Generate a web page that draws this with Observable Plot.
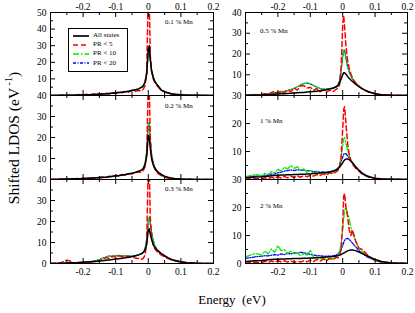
<!DOCTYPE html>
<html><head><meta charset="utf-8">
<script src="https://cdn.jsdelivr.net/npm/d3@7"></script>
<script src="https://cdn.jsdelivr.net/npm/@observablehq/plot@0.6"></script>
<style>
body{margin:0;background:#fff;}
#chart{position:relative;width:415px;height:313px;overflow:hidden;background:#fff;font-family:"Liberation Serif","Times New Roman",serif;color:#000;}
.abs{position:absolute;white-space:pre;line-height:1;}
</style></head><body><div id="chart"></div>
<script>
// ---- data ----
const energy = [-0.30,-0.27,-0.25,-0.24,-0.23,-0.22,-0.21,-0.20,-0.19,-0.18,-0.17,-0.16,-0.15,-0.14,-0.13,-0.12,-0.11,-0.10,-0.09,-0.08,-0.07,-0.06,-0.05,-0.04,-0.03,-0.02,-0.015,-0.01,-0.005,0,0.003,0.006,0.01,0.015,0.02,0.025,0.03,0.04,0.05,0.06,0.07,0.08,0.10,0.12,0.15,0.20];

const seriesNames = ["All states", "PR < 5", "PR < 10", "PR < 20"];
const panelLabels = ["0.1 % Mn", "0.2 % Mn", "0.3 % Mn", "0.5 % Mn", "1 % Mn", "2 % Mn"];

// 0.1 % Mn
const mn01_all  = [0,0.1,0.1,0.2,0.2,0.3,0.3,0.4,0.5,0.5, 0.6,0.7,0.8,0.9,1.0,1.2,1.4,1.6,1.8,2.0, 2.3,2.6,3.0,3.4,4.0,5.0,6.0,8.0,13, 28,30,22,15,11,8.5,7,5.8,3.2,2.3, 1.6,1.1,0.8,0.4,0.2,0.1,0];
const mn01_pr5  = [0,0.1,0.3,0.1,0.2,0.1,0.6,0.2,0.8,0.3, 0.9,0.5,1.0,0.6,1.3,0.9,1.8,1.2,2.2,1.6, 2.6,2.0,3.2,2.6,3.0,2.8,4,6,14, 62,58,24,15,10,8,6.5,5.2,3.2,2.2, 1.5,1.0,0.7,0.3,0.1,0.1,0];
const mn01_pr10 = [0,0.1,0.1,0.2,0.2,0.3,0.3,0.4,0.5,0.5, 0.6,0.7,0.8,0.9,1.0,1.2,1.4,1.6,1.8,2.0, 2.3,2.6,3.0,3.4,4.0,5.0,6.0,8.0,13, 27,29,22,15,11,8.5,7,5.8,3.2,2.3, 1.6,1.1,0.8,0.4,0.2,0.1,0];
const mn01_pr20 = [0,0.1,0.1,0.2,0.2,0.3,0.3,0.4,0.5,0.5, 0.6,0.7,0.8,0.9,1.0,1.2,1.4,1.6,1.8,2.0, 2.3,2.6,3.0,3.4,4.0,5.0,6.0,8.0,13, 27,29,22,15,11,8.5,7,5.8,3.2,2.3, 1.6,1.1,0.8,0.4,0.2,0.1,0];
// 0.2 % Mn
const mn02_all  = [0,0.1,0.2,0.2,0.3,0.3,0.4,0.5,0.5,0.6, 0.7,0.8,0.9,1.0,1.1,1.3,1.5,1.7,1.9,2.1, 2.4,2.7,3.0,3.4,3.9,4.6,5.4,7,11, 21,20,15,10,7,5.5,4.4,3.5,2.4,1.6, 1.1,0.7,0.5,0.2,0.1,0.05,0];
const mn02_pr5  = [0,0.2,0.1,0.3,0.2,0.5,0.3,0.7,0.4,0.8, 0.6,1.0,0.8,1.3,1.0,1.6,1.3,2.0,1.6,2.4, 2.0,2.8,2.6,3.2,3.6,3.4,4.5,6,12, 45,44,20,11,7,5,3.8,2.8,1.8,1.1, 0.7,0.5,0.3,0.1,0.1,0,0];
const mn02_pr10 = [0,0.1,0.2,0.3,0.2,0.4,0.3,0.6,0.5,0.7, 0.6,0.9,0.8,1.1,1.0,1.4,1.4,1.8,1.7,2.2, 2.3,2.8,2.9,3.4,3.8,4.5,5.5,7.5,13, 26,27,18,12,8,5.5,4.2,3.2,2.0,1.3, 0.8,0.5,0.3,0.1,0.05,0,0];
const mn02_pr20 = [0,0.1,0.2,0.3,0.2,0.4,0.3,0.6,0.5,0.7, 0.6,0.9,0.8,1.1,1.0,1.4,1.4,1.8,1.7,2.2, 2.3,2.8,2.9,3.4,3.8,4.5,5.5,7.5,13, 26,27,18,12,8,5.5,4.2,3.2,2.0,1.3, 0.8,0.5,0.3,0.1,0.05,0,0];
// 0.3 % Mn
const mn03_all  = [0,0.1,0.2,0.3,0.3,0.4,0.5,0.6,0.7,0.8, 0.9,1.0,1.2,1.3,1.5,1.7,1.9,2.1,2.3,2.5, 2.7,3.0,3.3,3.7,4.1,4.7,5.3,6.3,9, 16,16.5,14,11.5,9,7.8,6.8,6.0,4.7,3.7, 2.8,2.1,1.5,0.8,0.4,0.1,0];
const mn03_pr5  = [0,0.2,1.6,1.2,0.3,0.2,0.4,0.3,0.6,0.5, 0.8,1.0,1.5,1.8,2.8,2.4,3.6,3.0,3.8,3.2, 3.6,3.0,3.4,2.6,2.4,2.0,2.6,4,10, 48,46,22,13,9,7,6,5.2,4,3.2, 2.4,1.8,1.3,0.6,0.3,0.1,0];
const mn03_pr10 = [0,0.1,0.3,0.3,0.4,0.4,0.5,0.6,0.7,0.9, 1.0,1.4,1.8,2.6,3.0,3.6,3.2,3.9,3.4,3.8, 3.5,3.6,3.4,3.6,4.0,4.8,5.5,7,11, 20,22,19,15,11,8.5,7,6,4.5,3.5, 2.6,1.9,1.4,0.7,0.3,0.1,0];
const mn03_pr20 = [0,0.1,0.3,0.3,0.4,0.4,0.5,0.6,0.7,0.9, 1.0,1.4,1.8,2.6,3.0,3.6,3.2,3.9,3.4,3.8, 3.5,3.6,3.4,3.6,4.0,4.8,5.5,7,11, 20,22,19,15,11,8.5,7,6,4.5,3.5, 2.6,1.9,1.4,0.7,0.3,0.1,0];
// 0.5 % Mn
const mn05_all  = [0.1,0.2,0.3,0.4,0.4,0.5,0.6,0.7,0.8,0.9, 1.0,1.1,1.2,1.3,1.4,1.5,1.7,1.8,1.9,2.1, 2.3,2.5,2.8,3.1,3.5,4.2,4.8,6,8, 10,11,11,10.2,9.2,8.3,7.5,6.8,5.5,4.3, 3.3,2.5,1.8,0.9,0.4,0.1,0];
const mn05_pr5  = [0,0.2,0.5,0.8,0.5,1.5,2.0,1.0,2.2,1.2, 2.8,1.8,3.6,2.6,4.6,4.8,3.6,4.0,2.4,3.4, 1.8,2.8,1.6,2.6,1.8,3.0,3.5,5,12, 34,38.5,33,24,17,13,10.5,8.5,6,4.5, 3.3,2.4,1.7,0.8,0.3,0.2,0.1];
const mn05_pr10 = [0.1,0.3,0.5,0.7,0.8,1.0,1.3,1.5,1.8,2.0, 2.4,2.8,3.4,4.2,5.0,5.8,6.0,5.6,4.8,4.0, 3.4,3.0,3.1,3.3,3.6,4.2,5,7,12, 19,22,21.5,18,14,11.5,9.5,8,6,4.5, 3.3,2.4,1.7,0.8,0.3,0.1,0];
const mn05_pr20 = [0.1,0.3,0.5,0.7,0.8,1.0,1.3,1.5,1.8,2.0, 2.4,2.8,3.4,4.2,5.0,5.8,6.0,5.6,4.8,4.0, 3.4,3.0,3.1,3.3,3.6,4.2,5,7,12, 19,22,21.5,18,14,11.5,9.5,8,6,4.5, 3.3,2.4,1.7,0.8,0.3,0.1,0];
// 1 % Mn
const mn1_all  = [0.6,0.9,1.0,1.1,1.2,1.3,1.4,1.5,1.6,1.6, 1.7,1.7,1.8,1.8,1.9,1.9,2.0,2.0,2.1,2.2, 2.3,2.4,2.5,2.7,3.0,3.4,3.8,4.4,5.2, 6.0,6.6,7.0,7.3,7.3,7.1,6.6,6.0,4.5,3.3, 2.2,1.5,1.0,0.4,0.2,0.1,0];
const mn1_pr5  = [0.2,0.4,0.2,0.6,0.3,0.8,0.4,1.0,0.5,1.1, 0.6,1.2,0.7,1.3,0.8,1.4,1.0,1.5,1.2,1.8, 1.4,2.0,1.6,2.4,2.0,2.8,3.2,4,8, 18,25,26,20,13,9,7,5.5,4,3, 2,1.4,0.9,0.4,0.2,0.1,0];
const mn1_pr10 = [1.0,1.8,1.4,2.2,1.8,2.8,2.4,3.6,3.0,4.4, 3.8,5.0,4.0,4.6,3.2,3.8,2.6,3.2,2.2,2.8, 2.0,2.6,2.0,2.6,2.4,3.2,3.8,5,8, 12,14.5,15,13,10.5,8.5,7,6,4.5,3.2, 2.2,1.5,1.0,0.4,0.2,0.1,0];
const mn1_pr20 = [0.8,1.2,1.4,1.6,1.5,1.9,2.0,2.4,2.6,3.0, 3.2,3.4,3.2,3.5,3.3,3.4,3.1,3.2,2.8,2.9, 2.6,2.7,2.6,2.8,3.0,3.5,4.0,5,6.5, 8,9,9.3,9.2,8.5,7.6,6.8,6.0,4.6,3.4, 2.4,1.6,1.1,0.5,0.2,0.1,0];
// 2 % Mn
const mn2_all  = [0.7,1.0,1.1,1.2,1.3,1.4,1.5,1.5,1.6,1.6, 1.7,1.7,1.8,1.8,1.8,1.9,1.9,2.0,2.0,2.1, 2.1,2.2,2.3,2.4,2.5,2.7,2.8,3.0,3.2, 3.5,3.7,3.9,4.2,4.5,4.7,4.8,4.8,4.6,4.1, 3.6,3.0,2.5,1.4,0.7,0.2,0];
const mn2_pr5  = [0.2,0.5,0.3,0.8,0.4,0.9,0.5,1.0,0.6,1.0, 0.5,0.9,0.4,0.8,0.5,1.0,0.6,1.2,0.7,1.5, 0.8,1.6,1.0,1.8,1.4,2.2,2.0,2.6,5, 14,24,25,20,17,12,10,12,8,5.5, 5,3.8,2.6,1.2,0.5,0.2,0.1];
const mn2_pr10 = [2.4,3.6,3.0,4.4,3.4,5.2,4.0,6.4,4.6,5.0, 3.6,4.4,3.4,3.8,2.8,3.4,3.0,4.8,2.2,2.0, 1.6,2.0,1.4,2.0,1.6,2.4,3.0,4,7, 12,16,19,20,18,16,13,11,8,5.5, 4.2,3.2,2.4,1.1,0.5,0.2,0];
const mn2_pr20 = [1.8,2.4,2.6,2.8,2.7,3.0,3.2,3.0,3.4,3.2, 3.6,3.4,3.8,3.6,4.0,3.8,3.6,3.2,3.0,2.8, 2.8,2.6,2.6,2.6,2.8,3.0,3.4,4,5, 6.5,7.5,8.3,8.8,9,8.6,8,7.3,6,4.6, 3.6,2.8,2.1,1.1,0.5,0.2,0];

// ticks
const xLabelTicks = [-0.2, -0.1, 0, 0.1, 0.2];
const xMajorTicks = [-0.3, -0.2, -0.1, 0, 0.1, 0.2];
const xMinorTicks = [-0.25, -0.15, -0.05, 0.05, 0.15];
const yLabels01 = [10, 20, 30, 40, 50];
const yLabels02 = [10, 20, 30, 40];
const yLabels03 = [0, 10, 20, 30, 40];
const yLabels05 = [10, 20, 30, 40];
const yLabels1  = [10, 20, 30];
const yLabels2  = [0, 10, 20, 30];

// ---- styling ----
const seriesColors = ["#000000", "#ff0000", "#00ee00", "#0000ff"];
const seriesDash   = [null, "5,3", "6,2,1.5,2", "3,1.5,1,1.5"];
const seriesWidth  = [1.5, 1.5, 1.3, 1.3];
const drawOrder = [3, 2, 1, 0];

const chart = document.getElementById("chart");
const fmtX = d => d === 0 ? "0" : String(d);

const panels = [
  {label: panelLabels[0], s: [mn01_all, mn01_pr5, mn01_pr10, mn01_pr20], yMax: 50, yLabels: yLabels01, x0: 50, x1: 213, y0: 12, y1: 95, top: true, bottom: false, lx: 165, ly: 23},
  {label: panelLabels[1], s: [mn02_all, mn02_pr5, mn02_pr10, mn02_pr20], yMax: 40, yLabels: yLabels02, x0: 50, x1: 213, y0: 95, y1: 179, top: false, bottom: false, lx: 165, ly: 107},
  {label: panelLabels[2], s: [mn03_all, mn03_pr5, mn03_pr10, mn03_pr20], yMax: 40, yLabels: yLabels03, x0: 50, x1: 213, y0: 179, y1: 263, top: false, bottom: true, lx: 165, ly: 190},
  {label: panelLabels[3], s: [mn05_all, mn05_pr5, mn05_pr10, mn05_pr20], yMax: 40, yLabels: yLabels05, x0: 245, x1: 407, y0: 12, y1: 95, top: true, bottom: false, lx: 260, ly: 32},
  {label: panelLabels[4], s: [mn1_all, mn1_pr5, mn1_pr10, mn1_pr20], yMax: 30, yLabels: yLabels1, x0: 245, x1: 407, y0: 95, y1: 179, top: false, bottom: false, lx: 260, ly: 122},
  {label: panelLabels[5], s: [mn2_all, mn2_pr5, mn2_pr10, mn2_pr20], yMax: 30, yLabels: yLabels2, x0: 245, x1: 407, y0: 179, y1: 263, top: false, bottom: true, lx: 260, ly: 207},
];

const mL = 34, mR = 12, mT = 14, mB = 18;

panels.forEach(p => {
  const fw = p.x1 - p.x0, fh = p.y1 - p.y0;
  const yMajor = d3.range(0, p.yMax + 1, 10);
  const yMinor = d3.range(5, p.yMax, 10);
  const marks = [];
  drawOrder.forEach(k => {
    const rows = energy.map((E, i) => ({E, v: p.s[k][i]}));
    marks.push(Plot.line(rows, {x: "E", y: "v", stroke: seriesColors[k], strokeWidth: seriesWidth[k],
      strokeDasharray: seriesDash[k] || undefined, clip: true}));
  });
  // inward ticks on all four sides
  marks.push(Plot.tickX(xMajorTicks, {insetTop: fh - 5, stroke: "black"}));
  marks.push(Plot.tickX(xMajorTicks, {insetBottom: fh - 5, stroke: "black"}));
  marks.push(Plot.tickX(xMinorTicks, {insetTop: fh - 3, stroke: "black"}));
  marks.push(Plot.tickX(xMinorTicks, {insetBottom: fh - 3, stroke: "black"}));
  marks.push(Plot.tickY(yMajor, {insetRight: fw - 5, stroke: "black"}));
  marks.push(Plot.tickY(yMajor, {insetLeft: fw - 5, stroke: "black"}));
  marks.push(Plot.tickY(yMinor, {insetRight: fw - 3, stroke: "black"}));
  marks.push(Plot.tickY(yMinor, {insetLeft: fw - 3, stroke: "black"}));
  marks.push(Plot.frame({stroke: "black", strokeWidth: 1}));
  marks.push(Plot.axisY({ticks: p.yLabels, tickSize: 0, tickPadding: 4, tickFormat: d => String(d), label: null}));
  const hasX = p.top || p.bottom;
  if (p.top) marks.push(Plot.axisX({anchor: "top", ticks: xLabelTicks, tickSize: 0, tickPadding: 3, tickFormat: fmtX, label: null}));
  if (p.bottom) marks.push(Plot.axisX({anchor: "bottom", ticks: xLabelTicks, tickSize: 0, tickPadding: 5, tickFormat: fmtX, label: null}));
  const xScale = {domain: [-0.3, 0.2]};
  if (!hasX) xScale.axis = null;
  const svg = Plot.plot({
    width: fw + mL + mR, height: fh + mT + mB,
    marginLeft: mL, marginRight: mR, marginTop: mT, marginBottom: mB,
    x: xScale, y: {domain: [0, p.yMax]},
    style: {background: "none", overflow: "visible", fontFamily: '"Liberation Serif", serif', fontSize: "9.5px", color: "black"},
    marks
  });
  svg.style.position = "absolute";
  svg.style.left = (p.x0 - mL) + "px";
  svg.style.top = (p.y0 - mT) + "px";
  chart.appendChild(svg);

  const lab = document.createElement("div");
  lab.className = "abs";
  lab.style.left = p.lx + "px";
  lab.style.top = (p.ly - 4) + "px";
  lab.style.fontSize = "7px";
  lab.textContent = p.label;
  chart.appendChild(lab);
});

// legend (top-left panel)
const leg = document.createElement("div");
leg.className = "abs";
Object.assign(leg.style, {left: "68px", top: "28px", width: "58px", height: "42px", border: "1px solid #000", background: "#fff"});
seriesNames.forEach((name, k) => {
  const cy = 6.5 + k * 9.3;
  const s = document.createElementNS("http://www.w3.org/2000/svg", "svg");
  s.setAttribute("width", 18); s.setAttribute("height", 4);
  Object.assign(s.style, {position: "absolute", left: "3px", top: (cy - 2) + "px"});
  const l = document.createElementNS("http://www.w3.org/2000/svg", "line");
  l.setAttribute("x1", 1); l.setAttribute("x2", 17); l.setAttribute("y1", 2); l.setAttribute("y2", 2);
  l.setAttribute("stroke", seriesColors[k]); l.setAttribute("stroke-width", seriesWidth[k] + 0.2);
  if (seriesDash[k]) l.setAttribute("stroke-dasharray", seriesDash[k]);
  s.appendChild(l); leg.appendChild(s);
  const t = document.createElement("div");
  t.className = "abs";
  Object.assign(t.style, {left: "24px", top: (cy - 3.8) + "px", fontSize: "7px"});
  t.textContent = name;
  leg.appendChild(t);
});
chart.appendChild(leg);

// axis titles
const yt = document.createElement("div");
yt.className = "abs";
Object.assign(yt.style, {left: "13px", top: "137.5px", fontSize: "15.5px", transform: "translate(-50%,-50%) rotate(-90deg)"});
yt.innerHTML = 'Shifted LDOS (eV<sup style="font-size:10px;vertical-align:7px"> -1</sup>)';
chart.appendChild(yt);

const xt = document.createElement("div");
xt.className = "abs";
Object.assign(xt.style, {left: "232px", top: "293px", fontSize: "13px", transform: "translateX(-50%)"});
xt.textContent = "Energy  (eV)";
chart.appendChild(xt);
</script></body></html>
